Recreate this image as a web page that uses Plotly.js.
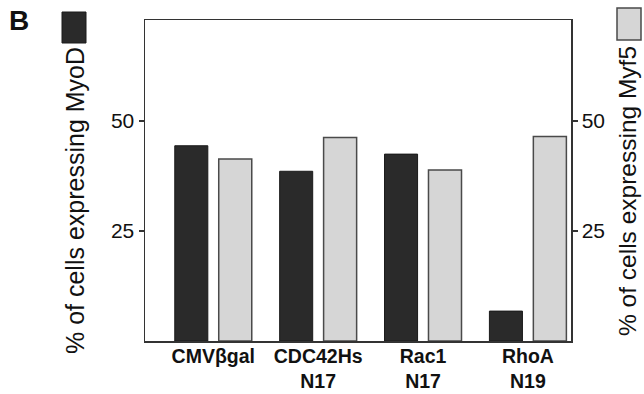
<!DOCTYPE html>
<html>
<head>
<meta charset="utf-8">
<script src="https://cdn.plot.ly/plotly-3.0.1.min.js"></script>
<style>html,body{margin:0;padding:0;background:#fff;}#chart{width:644px;height:394px;}</style>
</head>
<body>
<div id="chart"></div>
<script>
// ---- data ----
var categories = ["CMVβgal", "CDC42Hs<br>N17", "Rac1<br>N17", "RhoA<br>N19"];
var myoD = [44.4, 38.6, 42.5, 6.8];
var myf5 = [41.4, 46.3, 38.9, 46.5];
var yTicks = [25, 50];
var yTickText = ["25", "50"];

// ---- layout helpers (pixels -> paper) ----
var W = 644, H = 394, L = 145, R = 73, T = 20, B = 53;
var pw = W - L - R, ph = H - T - B;
function px(x) { return (x - L) / pw; }
function py(y) { return (H - B - y) / ph; }

var font = '"Liberation Sans", Arial, Helvetica, sans-serif';
var yRange = [0, 73];

var traces = [
  {
    type: 'bar', x: categories, y: myoD, name: 'MyoD',
    width: 0.315, offset: -0.367,
    marker: {color: '#2a2a2a', line: {color: '#1a1a1a', width: 1}},
    yaxis: 'y'
  },
  {
    type: 'bar', x: categories, y: myf5, name: 'Myf5',
    width: 0.315, offset: 0.052,
    marker: {color: '#d6d6d6', line: {color: '#4a4a4a', width: 1.5}},
    yaxis: 'y2'
  }
];

var layout = {
  width: W, height: H,
  margin: {l: L, r: R, t: T, b: B, pad: 0},
  paper_bgcolor: '#ffffff', plot_bgcolor: '#ffffff',
  showlegend: false,
  barmode: 'overlay',
  font: {family: font, color: '#111'},
  xaxis: {
    type: 'category', range: [-0.651, 3.411],
    showline: true, mirror: true, linecolor: '#333', linewidth: 1.5,
    ticks: '', showgrid: false, zeroline: false,
    tickfont: {family: font, size: 19.5, color: '#111', weight: 'bold'},
    ticklabelstandoff: -3
  },
  yaxis: {
    range: yRange, showline: true, linecolor: '#333', linewidth: 1.5,
    ticks: 'outside', ticklen: 5, tickwidth: 1.5, tickcolor: '#333',
    tickvals: yTicks, ticktext: yTickText,
    tickfont: {family: font, size: 21, color: '#111'},
    showgrid: false, zeroline: false, fixedrange: true
  },
  yaxis2: {
    overlaying: 'y', side: 'right', range: yRange,
    showline: true, linecolor: '#333', linewidth: 1.5,
    ticks: 'outside', ticklen: 5, tickwidth: 1.5, tickcolor: '#333',
    tickvals: yTicks, ticktext: yTickText,
    tickfont: {family: font, size: 21, color: '#111'},
    showgrid: false, zeroline: false
  },
  shapes: [
    {type: 'rect', xref: 'paper', yref: 'paper', x0: px(62), x1: px(86), y0: py(43), y1: py(12),
     fillcolor: '#2a2a2a', line: {color: '#1a1a1a', width: 1}},
    {type: 'rect', xref: 'paper', yref: 'paper', x0: px(617), x1: px(641), y0: py(40), y1: py(8),
     fillcolor: '#d6d6d6', line: {color: '#4a4a4a', width: 1.5}}
  ],
  annotations: [
    {text: '% of cells expressing MyoD', textangle: -90, xref: 'paper', yref: 'paper',
     x: px(75), y: py(201), xanchor: 'center', yanchor: 'middle', showarrow: false,
     font: {family: font, size: 25, color: '#111'}},
    {text: '% of cells expressing Myf5', textangle: -90, xref: 'paper', yref: 'paper',
     x: px(628), y: py(191), xanchor: 'center', yanchor: 'middle', showarrow: false,
     font: {family: font, size: 24.5, color: '#111'}},
    {text: '<b>B</b>', xref: 'paper', yref: 'paper', x: px(19), y: py(20),
     xanchor: 'center', yanchor: 'middle', showarrow: false,
     font: {family: font, size: 28, color: '#111'}}
  ]
};

Plotly.newPlot('chart', traces, layout, {displayModeBar: false, staticPlot: true});
</script>
</body>
</html>
